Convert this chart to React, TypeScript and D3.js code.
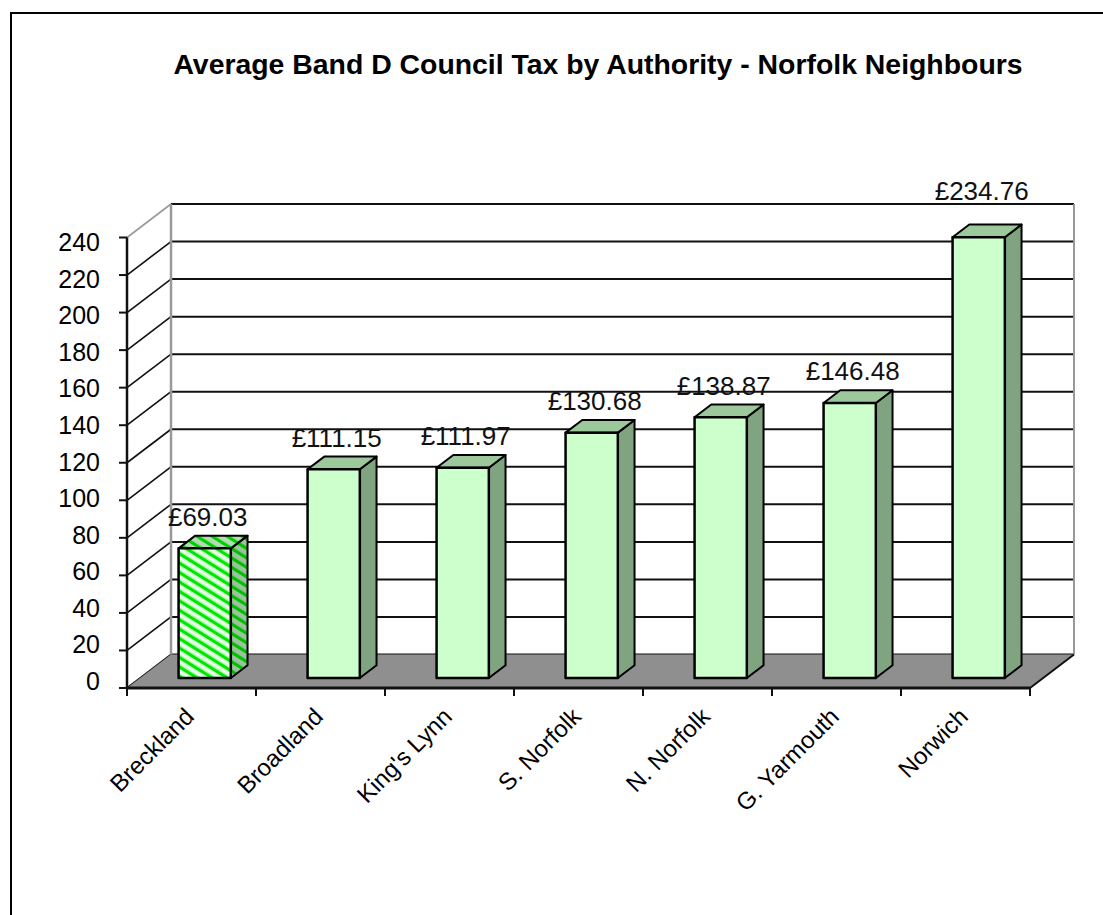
import React from "react";
import * as d3 from "d3";

const title = "Average Band D Council Tax by Authority - Norfolk Neighbours";
const categories = ["Breckland", "Broadland", "King's Lynn", "S. Norfolk", "N. Norfolk", "G. Yarmouth", "Norwich"];
const values = [69.03, 111.15, 111.97, 130.68, 138.87, 146.48, 234.76];
const valueLabels = ["£69.03", "£111.15", "£111.97", "£130.68", "£138.87", "£146.48", "£234.76"];
const yTicks = [0, 20, 40, 60, 80, 100, 120, 140, 160, 180, 200, 220, 240];
const highlighted = ["Breckland"];

const FONT = "'Liberation Sans', Arial, sans-serif";

export default function App() {
  const W = 1103;
  const H = 915;
  const x = d3.scaleBand<string>().domain(categories).range([127, 1030]);
  const y = d3.scaleLinear().domain([0, 240]).range([688, 237.5]);
  const yLabel = d3.scaleLinear().domain([0, 240]).range([681, 242]);
  const DX = 44;
  const DY = -33.5;
  const P = (px: number, v: number, d: number): [number, number] => [px + d * DX, y(v) + d * DY];
  const pts = (arr: [number, number][]) => arr.map((q) => q.join(",")).join(" ");

  const x0 = x.range()[0];
  const x1 = x.range()[1];
  const bw = x.bandwidth() * 0.405;
  const d0 = 0.3;
  const d1 = 0.68;

  const backTop = P(x0, 240, 1)[1];

  return (
    <svg width={W} height={H} style={{ position: "absolute", left: 0, top: 0, display: "block" }} fontFamily={FONT}>
      <defs>
        <pattern id="hatchFront" patternUnits="userSpaceOnUse" width="8" height="8" patternTransform="rotate(-58)">
          <rect width="8" height="8" fill="#ccffcc" />
          <rect width="3.2" height="8" fill="#00e600" />
          <rect x="5" width="1.4" height="8" fill="#f4fff4" />
        </pattern>
        <pattern id="hatchSide" patternUnits="userSpaceOnUse" width="8" height="8" patternTransform="rotate(-58)">
          <rect width="8" height="8" fill="#9cc49c" />
          <rect width="3.2" height="8" fill="#00c000" />
        </pattern>
        <pattern id="hatchTop" patternUnits="userSpaceOnUse" width="8" height="8" patternTransform="rotate(-58)">
          <rect width="8" height="8" fill="#b4dcb4" />
          <rect width="3.2" height="8" fill="#00d000" />
        </pattern>
      </defs>

      <rect x={0} y={0} width={W} height={H} fill="#ffffff" />
      <rect x={11} y={13} width={1110} height={920} fill="none" stroke="#000" strokeWidth={2} />

      <text x={598} y={74} textAnchor="middle" fontSize={28.4} fontWeight="bold" fill="#000">
        {title}
      </text>

      {/* back wall */}
      <polygon points={pts([P(x0, 0, 1), P(x1, 0, 1), P(x1, 240, 1), P(x0, 240, 1)])} fill="#fff" />
      {/* back wall gridlines */}
      {yTicks.map((t) => {
        const a = P(x0, t, 1);
        const b = P(x1, t, 1);
        return <line key={"g" + t} x1={a[0]} y1={a[1]} x2={b[0]} y2={b[1]} stroke="#111" strokeWidth={2} />;
      })}
      {/* left wall gridlines */}
      {yTicks.map((t) => {
        const a = P(x0, t, 0);
        const b = P(x0, t, 1);
        return (
          <line key={"l" + t} x1={a[0]} y1={a[1]} x2={b[0]} y2={b[1]} stroke={t === 240 ? "#999" : "#111"} strokeWidth={1.6} />
        );
      })}
      {/* back wall vertical edges */}
      <line x1={P(x0, 0, 1)[0]} y1={P(x0, 0, 1)[1]} x2={P(x0, 240, 1)[0]} y2={backTop} stroke="#999" strokeWidth={2.5} />
      <line x1={P(x1, 0, 1)[0]} y1={P(x1, 0, 1)[1]} x2={P(x1, 240, 1)[0]} y2={backTop} stroke="#999" strokeWidth={2} />

      {/* floor */}
      <polygon points={pts([P(x0, 0, 0), P(x1, 0, 0), P(x1, 0, 1), P(x0, 0, 1)])} fill="#8f8f8f" />
      <line x1={P(x0, 0, 0)[0]} y1={y(0)} x2={P(x1, 0, 0)[0]} y2={y(0)} stroke="#111" strokeWidth={3} />
      <line x1={P(x1, 0, 0)[0]} y1={P(x1, 0, 0)[1]} x2={P(x1, 0, 1)[0]} y2={P(x1, 0, 1)[1]} stroke="#111" strokeWidth={2} />

      {/* y axis */}
      <line x1={x0} y1={y(0)} x2={x0} y2={y(240)} stroke="#111" strokeWidth={2.5} />
      {yTicks.map((t) => (
        <g key={"yt" + t}>
          <line x1={x0 - 8} y1={y(t)} x2={x0} y2={y(t)} stroke="#111" strokeWidth={2} />
          <text x={100} y={yLabel(t)} dy="0.36em" textAnchor="end" fontSize={25} fill="#000">
            {t}
          </text>
        </g>
      ))}

      {/* x ticks */}
      {d3.range(categories.length + 1).map((i) => {
        const xx = x0 + i * x.step();
        return <line key={"xt" + i} x1={xx} y1={y(0)} x2={xx} y2={y(0) + 8} stroke="#111" strokeWidth={2} />;
      })}

      {/* bars */}
      {categories.map((c, i) => {
        const v = values[i];
        const cx = (x(c) as number) + x.bandwidth() / 2;
        const l = cx - bw / 2;
        const r = cx + bw / 2;
        const hl = highlighted.includes(c);
        const front = [P(l, 0, d0), P(r, 0, d0), P(r, v, d0), P(l, v, d0)] as [number, number][];
        const side = [P(r, 0, d0), P(r, 0, d1), P(r, v, d1), P(r, v, d0)] as [number, number][];
        const top = [P(l, v, d0), P(r, v, d0), P(r, v, d1), P(l, v, d1)] as [number, number][];
        const fc = P(cx, v, d0);
        const tb = P(cx, v, d1)[1];
        const ly = tb - 10 > backTop + 16 ? tb - 10 : backTop - 4;
        return (
          <g key={c}>
            <polygon points={pts(side)} fill={hl ? "url(#hatchSide)" : "#80a480"} stroke="#000" strokeWidth={2} strokeLinejoin="round" />
            <polygon points={pts(top)} fill={hl ? "url(#hatchTop)" : "#9cc89c"} stroke="#000" strokeWidth={2} strokeLinejoin="round" />
            <polygon points={pts(front)} fill={hl ? "url(#hatchFront)" : "#ccffcc"} stroke="#000" strokeWidth={2.5} strokeLinejoin="round" />
            <text x={fc[0] + 3} y={ly} textAnchor="middle" fontSize={26} fill="#111">
              {valueLabels[i]}
            </text>
          </g>
        );
      })}

      {/* category labels */}
      {categories.map((c) => {
        const cx = (x(c) as number) + x.bandwidth() / 2;
        return (
          <text
            key={"cl" + c}
            transform={`translate(${cx + 4},${y(0) + 30}) rotate(-45)`}
            textAnchor="end"
            fontSize={24}
            fill="#000"
          >
            {c}
          </text>
        );
      })}
    </svg>
  );
}
